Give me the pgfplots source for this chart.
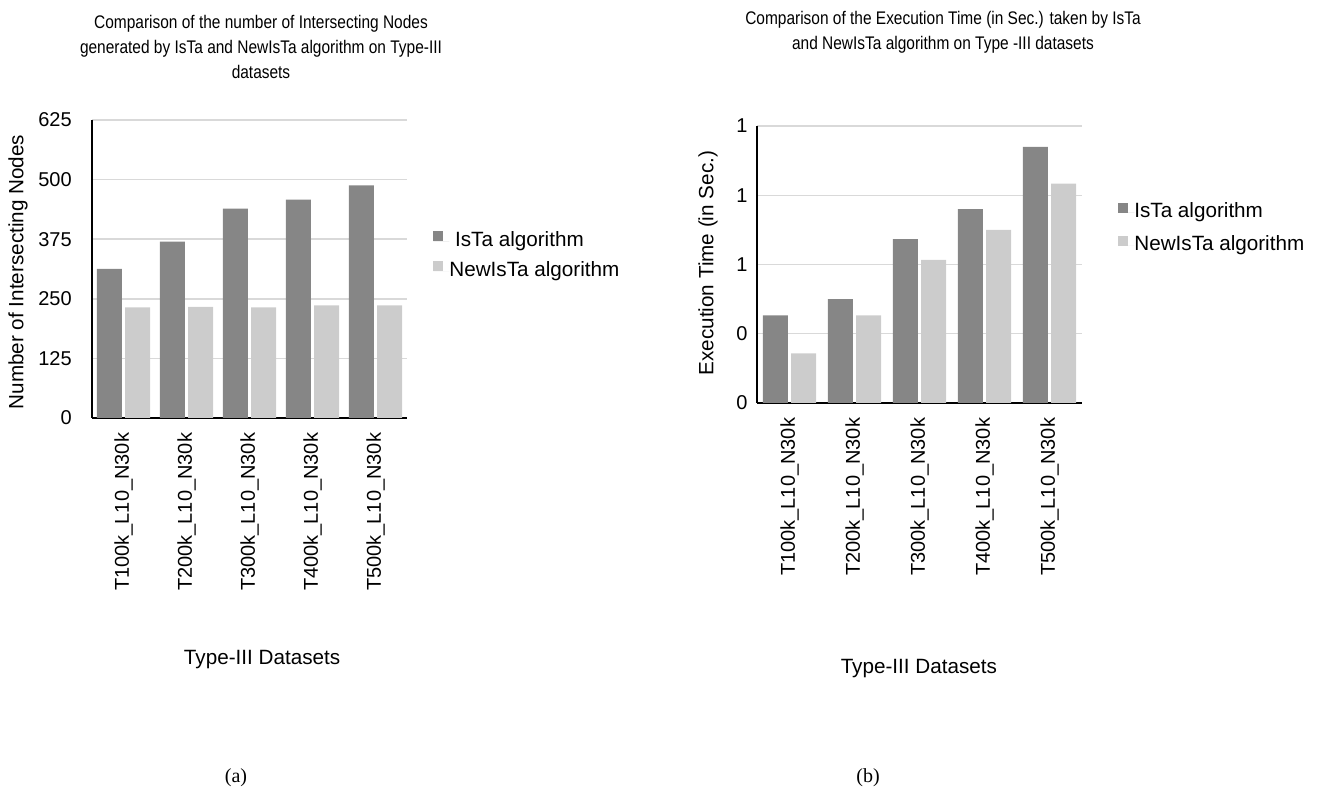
\documentclass[border=0pt]{standalone}
\usepackage{pgfplots}
\pgfplotsset{compat=1.18}
\usepackage{fontspec}
\setmainfont{Liberation Sans}
\newfontfamily\timesf{Liberation Serif}
\definecolor{darkbar}{RGB}{134,134,134}
\definecolor{lightbar}{RGB}{204,204,204}
\definecolor{gridc}{RGB}{217,217,217}

\pgfplotsset{
  mybar/.style={
    scale only axis,
    anchor=south west,
    ybar=2.5pt,
    bar width=18.75pt,
    xmin=-0.5, xmax=4.5,
    xtick={0,1,2,3,4},
    xticklabels={T100k\_L10\_N30k,T200k\_L10\_N30k,T300k\_L10\_N30k,T400k\_L10\_N30k,T500k\_L10\_N30k},
    major tick length=0pt,
    axis x line*=bottom, axis y line*=left,
    axis line style={line width=1.6pt, black, -},
    ymajorgrids, grid style={gridc, line width=1.1pt},
    tick label style={font=\fontsize{15}{18}\selectfont},
    xticklabel style={rotate=90, anchor=east, inner sep=0pt},
    xticklabel shift=11pt,
    yticklabel style={anchor=east, inner sep=0pt},
    label style={font=\fontsize{15.5}{18}\selectfont},
    /pgf/number format/assume math mode=true,
    legend cell align=left,
    legend style={draw=none, fill=none, inner sep=0pt,
      font=\fontsize{15.5}{18}\selectfont,
      nodes={inner sep=0pt, text height=11.5pt, text depth=3.5pt}},
    legend image code/.code={\fill[##1] (0pt,0pt) rectangle (7.5pt,7.5pt); \path (0pt,0pt) -- (12pt,0pt);},
  }
}

\begin{document}
\begin{tikzpicture}
\useasboundingbox (0,0) rectangle (990pt,599.25pt);

\begin{axis}[mybar,
  at={(69pt,285.75pt)}, width=236.25pt, height=223.5pt,
  ymin=0, ymax=625, ytick={0,125,250,375,500,625},
  yticklabel shift=15pt,
  ylabel={Number of Intersecting Nodes},
  ylabel style={at={(axis description cs:-0.235,0.49)}, anchor=center},
  xlabel={Type-III Datasets},
  xlabel style={at={(axis description cs:0.54,-0.812)}, anchor=center},
  legend style={at={(1.083,0.627)}, anchor=north west, row sep=7.5pt},
]
\addplot[fill=darkbar, draw=none] coordinates {(0,313) (1,370) (2,439) (3,458) (4,488)};
\addplot[fill=lightbar, draw=none] coordinates {(0,232) (1,233) (2,232) (3,236) (4,236)};
\legend{{\ IsTa algorithm},{NewIsTa algorithm}}
\end{axis}

\begin{axis}[mybar,
  at={(567.75pt,297pt)}, width=243.75pt, height=207.75pt,
  ymin=0, ymax=1.2, ytick={0,0.3,0.6,0.9,1.2}, yticklabels={0,0,1,1,1},
  yticklabel shift=7pt,
  ylabel={Execution Time (in Sec.)},
  ylabel style={at={(axis description cs:-0.151,0.505)}, anchor=center},
  xlabel={Type-III Datasets},
  xlabel style={at={(axis description cs:0.498,-0.96)}, anchor=center},
  legend style={at={(1.111,0.7245)}, anchor=north west, row sep=9.75pt},
]
\addplot[fill=darkbar, draw=none] coordinates {(0,0.38) (1,0.45) (2,0.71) (3,0.84) (4,1.11)};
\addplot[fill=lightbar, draw=none] coordinates {(0,0.215) (1,0.38) (2,0.62) (3,0.75) (4,0.95)};
\legend{{IsTa algorithm},{NewIsTa algorithm}}
\end{axis}

\begin{scope}[shift={(195.75pt,564pt)}, yscale=1.18, transform shape]
\node[font=\fontsize{11.6}{15.6}\selectfont, align=center, inner sep=0pt] at (0,0)
  {Comparison of the number of Intersecting Nodes\\generated by IsTa and NewIsTa algorithm on Type-III\\datasets};
\end{scope}
\begin{scope}[shift={(707.25pt,574.9pt)}, yscale=1.18, transform shape]
\node[font=\fontsize{11.6}{15.6}\selectfont, align=center, inner sep=0pt] at (0,0)
  {Comparison of the Execution Time (in Sec.) taken by IsTa\\and NewIsTa algorithm on Type -III datasets};
\end{scope}
\node[font=\timesf\fontsize{15}{18}\selectfont, inner sep=0pt] at (177pt,15.75pt) {(a)};
\node[font=\timesf\fontsize{15}{18}\selectfont, inner sep=0pt] at (651pt,15.75pt) {(b)};
\end{tikzpicture}
\end{document}
